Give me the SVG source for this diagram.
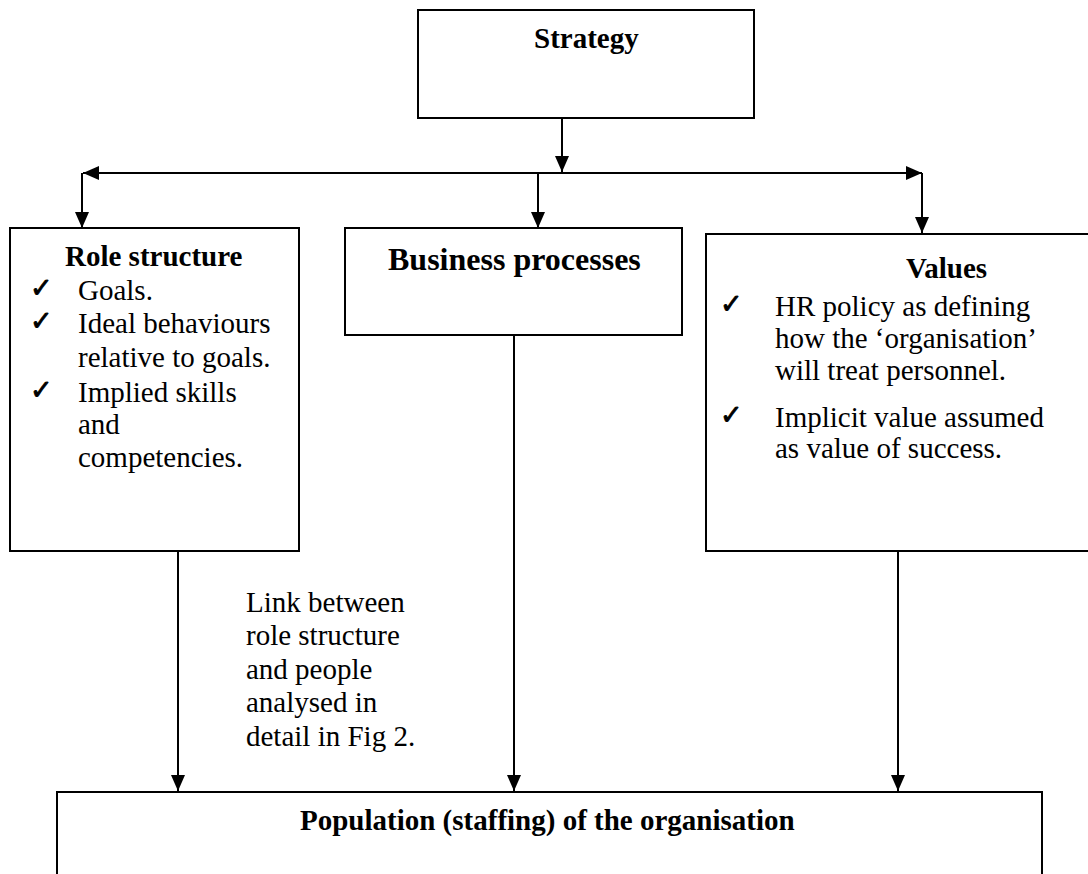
<svg xmlns="http://www.w3.org/2000/svg" width="1088" height="874" viewBox="0 0 1088 874">
<style>
.box{fill:#fff;stroke:#000;stroke-width:2}
.ln{fill:none;stroke:#000;stroke-width:2}
text{font-family:"Liberation Serif","Times New Roman",serif;fill:#000}
.h{font-weight:bold;font-size:29px}
.t{font-size:29px}
.ck{font-family:"DejaVu Sans",sans-serif;font-size:27px;stroke:#000;stroke-width:0.9}
</style>
<defs>
<marker id="ah" markerUnits="userSpaceOnUse" markerWidth="16" markerHeight="16" viewBox="0 0 16 16" refX="16" refY="8" orient="auto">
<path d="M0,1 L16,8 L0,15 Z" fill="#000"/>
</marker>
</defs>
<rect width="1088" height="874" fill="#fff"/>
<g id="connectors">
<line class="ln" x1="562" y1="118" x2="562" y2="172" marker-end="url(#ah)"/>
<line class="ln" x1="300" y1="173" x2="83" y2="173" marker-end="url(#ah)"/>
<line class="ln" x1="300" y1="173" x2="922" y2="173" marker-end="url(#ah)"/>
<line class="ln" x1="82" y1="173" x2="82" y2="228" marker-end="url(#ah)"/>
<line class="ln" x1="538" y1="173" x2="538" y2="228" marker-end="url(#ah)"/>
<line class="ln" x1="922" y1="173" x2="922" y2="233" marker-end="url(#ah)"/>
<line class="ln" x1="178" y1="551" x2="178" y2="791" marker-end="url(#ah)"/>
<line class="ln" x1="514" y1="335" x2="514" y2="791" marker-end="url(#ah)"/>
<line class="ln" x1="898" y1="551" x2="898" y2="791" marker-end="url(#ah)"/>
</g>
<g id="strategy">
<rect class="box" x="418" y="10" width="336" height="108"/>
<text class="h" x="534" y="48">Strategy</text>
</g>
<g id="role-structure">
<rect class="box" x="10" y="228" width="289" height="323"/>
<text class="h" x="65" y="266">Role structure</text>
<text class="ck" x="30" y="297">✓</text>
<text class="ck" x="30" y="330">✓</text>
<text class="ck" x="30" y="399">✓</text>
<text class="t" x="78" y="300">Goals.</text>
<text class="t" x="78" y="333">Ideal behaviours</text>
<text class="t" x="78" y="367">relative to goals.</text>
<text class="t" x="78" y="402">Implied skills</text>
<text class="t" x="78" y="434">and</text>
<text class="t" x="78" y="467">competencies.</text>
</g>
<g id="business-processes">
<rect class="box" x="345" y="228" width="337" height="107"/>
<text class="h" x="388" y="270" style="font-size:32px">Business processes</text>
</g>
<g id="values">
<rect class="box" x="706" y="234" width="384" height="317"/>
<text class="h" x="906" y="278">Values</text>
<text class="ck" x="720" y="313">✓</text>
<text class="ck" x="720" y="424">✓</text>
<text class="t" x="775" y="316">HR policy as defining</text>
<text class="t" x="775" y="348">how the ‘organisation’</text>
<text class="t" x="775" y="380">will treat personnel.</text>
<text class="t" x="775" y="427">Implicit value assumed</text>
<text class="t" x="775" y="458">as value of success.</text>
</g>
<g id="link-note">
<text class="t" x="246" y="612">Link between</text>
<text class="t" x="246" y="645">role structure</text>
<text class="t" x="246" y="679">and people</text>
<text class="t" x="246" y="712">analysed in</text>
<text class="t" x="246" y="746">detail in Fig 2.</text>
</g>
<g id="population">
<rect class="box" x="57" y="792" width="985" height="90"/>
<text class="h" x="300" y="830">Population (staffing) of the organisation</text>
</g>
</svg>
